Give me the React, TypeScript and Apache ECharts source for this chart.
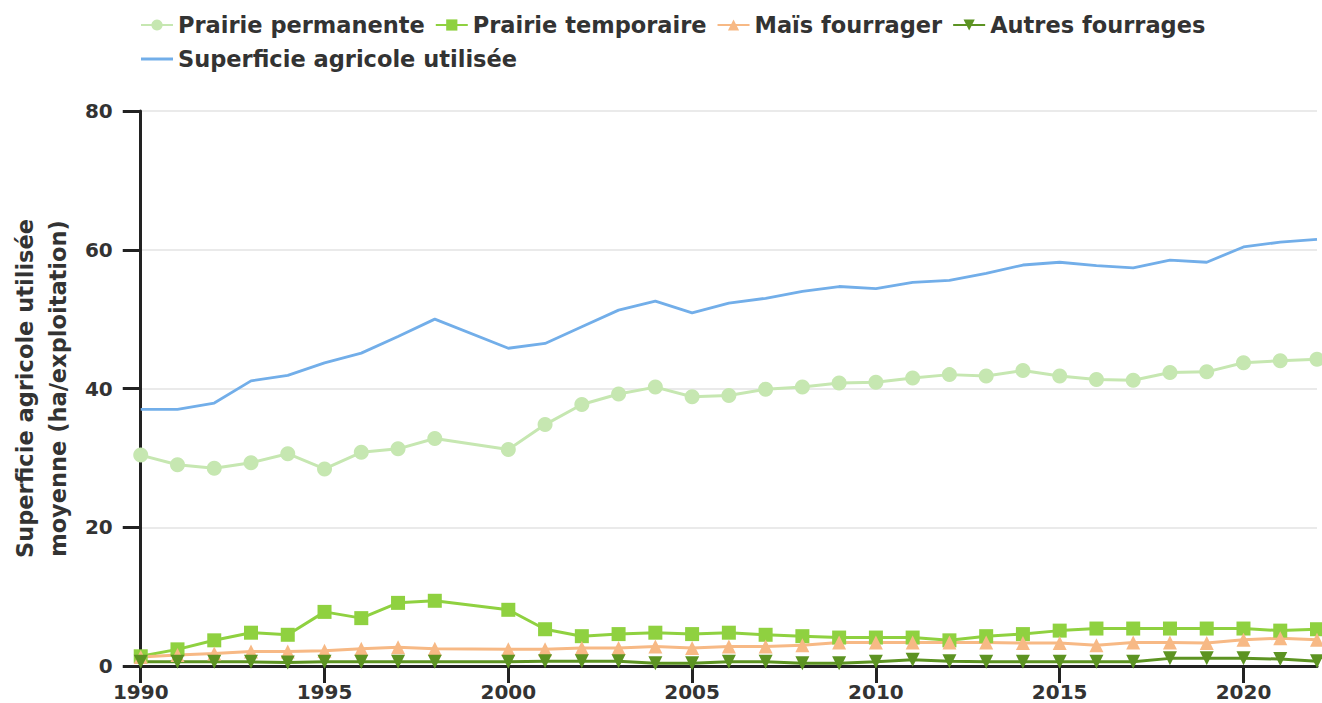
import React, { useEffect, useRef } from "react";
import * as echarts from "echarts";

const years = [1990, 1991, 1992, 1993, 1994, 1995, 1996, 1997, 1998, 2000, 2001, 2002, 2003, 2004, 2005, 2006, 2007, 2008, 2009, 2010, 2011, 2012, 2013, 2014, 2015, 2016, 2017, 2018, 2019, 2020, 2021, 2022];

const prairiePermanente = [30.4, 29.0, 28.5, 29.3, 30.6, 28.4, 30.8, 31.3, 32.8, 31.2, 34.8, 37.7, 39.2, 40.2, 38.8, 39.0, 39.9, 40.2, 40.8, 40.9, 41.5, 42.0, 41.8, 42.6, 41.8, 41.3, 41.2, 42.3, 42.4, 43.7, 44.0, 44.2];
const prairieTemporaire = [1.4, 2.4, 3.7, 4.8, 4.5, 7.8, 6.9, 9.1, 9.4, 8.1, 5.3, 4.3, 4.6, 4.8, 4.6, 4.8, 4.5, 4.3, 4.1, 4.1, 4.1, 3.7, 4.3, 4.6, 5.1, 5.4, 5.4, 5.4, 5.4, 5.4, 5.1, 5.3];
const maisFourrager = [1.3, 1.6, 1.8, 2.1, 2.1, 2.2, 2.5, 2.7, 2.5, 2.4, 2.4, 2.6, 2.6, 2.8, 2.6, 2.8, 2.8, 3.0, 3.4, 3.4, 3.4, 3.4, 3.4, 3.3, 3.3, 3.0, 3.4, 3.4, 3.3, 3.8, 4.0, 3.8];
const autresFourrages = [0.6, 0.6, 0.6, 0.6, 0.5, 0.6, 0.6, 0.6, 0.6, 0.6, 0.7, 0.7, 0.7, 0.4, 0.4, 0.6, 0.6, 0.4, 0.4, 0.6, 0.9, 0.7, 0.6, 0.6, 0.6, 0.6, 0.6, 1.1, 1.1, 1.1, 1.0, 0.7];
const superficie = [37.0, 37.0, 37.9, 41.1, 41.9, 43.7, 45.1, 47.5, 50.0, 45.8, 46.5, 48.9, 51.3, 52.6, 50.9, 52.3, 53.0, 54.0, 54.7, 54.4, 55.3, 55.6, 56.6, 57.8, 58.2, 57.7, 57.4, 58.5, 58.2, 60.4, 61.1, 61.5];

const xTicks = [1990, 1995, 2000, 2005, 2010, 2015, 2020];
const yTicks = [0, 20, 40, 60, 80];

const seriesNames = ["Prairie permanente", "Prairie temporaire", "Maïs fourrager", "Autres fourrages", "Superficie agricole utilisée"];
const yAxisTitle = "Superficie agricole utilisée\nmoyenne (ha/exploitation)";

const pair = (vals: number[]) => years.map((y, i) => [y, vals[i]]);

export default function App() {
  const ref = useRef<HTMLDivElement>(null);
  useEffect(() => {
    if (!ref.current) return;
    const chart = echarts.init(ref.current, undefined, { renderer: "svg" });
    const font = "DejaVu Sans";
    const lineSeries = (name: string, vals: number[], color: string, symbol: string, size: number, extra: any = {}) => ({
      name,
      type: "line",
      data: pair(vals),
      symbol,
      symbolSize: size,
      showSymbol: symbol !== "none",
      lineStyle: { color, width: 3 },
      itemStyle: { color },
      ...extra,
    });
    chart.setOption({
      animation: false,
      backgroundColor: "#ffffff",
      legend: {
        left: 135,
        top: 8,
        width: 1120,
        itemWidth: 32,
        itemHeight: 14,
        itemGap: 10,
        textStyle: { fontFamily: font, fontWeight: "bold", fontSize: 22.5, color: "#333", lineHeight: 24 },
        data: [
          seriesNames[0],
          seriesNames[1],
          seriesNames[2],
          seriesNames[3],
          { name: seriesNames[4], icon: "path://M0,0L32,0L32,3L0,3Z" },
        ],
      },
      grid: { left: 132, right: 5, top: 111, bottom: 37, containLabel: false },
      xAxis: {
        type: "value",
        min: 1990,
        max: 2022,
        interval: 5,
        axisLine: { show: true, onZero: false, lineStyle: { color: "#222", width: 3 } },
        axisTick: { show: true, length: 17, customValues: xTicks, lineStyle: { color: "#222", width: 3 } },
        axisLabel: {
          customValues: xTicks,
          formatter: (v: number) => String(v),
          fontFamily: font,
          fontWeight: "bold",
          fontSize: 20,
          lineHeight: 20,
          color: "#333",
          margin: 16,
        },
        splitLine: { show: false },
      },
      yAxis: {
        type: "value",
        min: 0,
        max: 80,
        interval: 20,
        name: yAxisTitle,
        nameLocation: "middle",
        nameGap: 62,
        nameTextStyle: { fontFamily: font, fontWeight: "bold", fontSize: 22.5, color: "#333", lineHeight: 33 },
        axisLine: { show: true, lineStyle: { color: "#222", width: 3 } },
        axisTick: { show: true, length: 18, lineStyle: { color: "#222", width: 3 } },
        axisLabel: {
          customValues: yTicks,
          fontFamily: font,
          fontWeight: "bold",
          fontSize: 20,
          color: "#333",
          margin: 28,
        },
        splitLine: { show: true, lineStyle: { color: "#e3e3e3", width: 1.5 } },
      },
      series: [
        lineSeries(seriesNames[0], prairiePermanente, "#c6e7b1", "circle", 15),
        lineSeries(seriesNames[1], prairieTemporaire, "#8fd140", "rect", 14),
        lineSeries(seriesNames[2], maisFourrager, "#f7b985", "triangle", 14),
        lineSeries(seriesNames[3], autresFourrages, "#5c9322", "triangle", 14, { symbolRotate: 180 }),
        lineSeries(seriesNames[4], superficie, "#72aee9", "none", 0, { lineStyle: { color: "#72aee9", width: 2.8 } }),
      ],
    });
    return () => chart.dispose();
  }, []);
  return <div ref={ref} style={{ position: "fixed", left: 0, top: 0, width: 1322, height: 703 }} />;
}
